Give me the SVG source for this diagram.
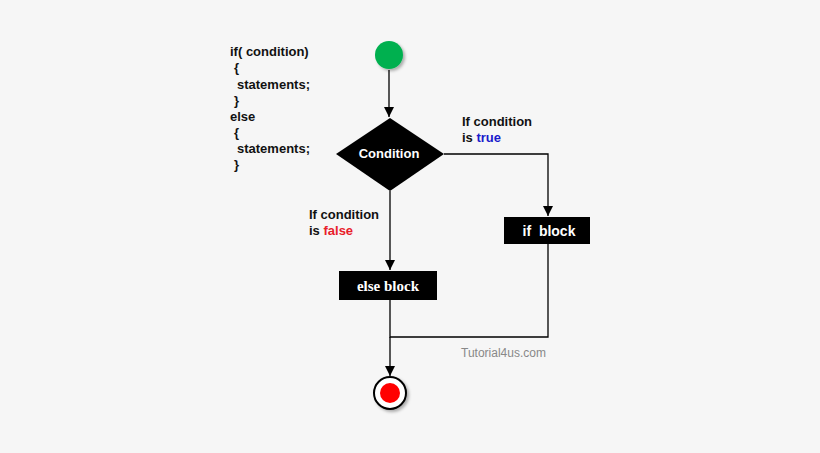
<svg xmlns="http://www.w3.org/2000/svg" width="820" height="453" viewBox="0 0 820 453">
<defs>
<marker id="ah" viewBox="0 0 10 10" refX="10" refY="5" markerWidth="10" markerHeight="10" markerUnits="userSpaceOnUse" orient="auto"><path d="M0,0 L10,5 L0,10 z" fill="#000"/></marker>
<filter id="sh" x="-50%" y="-50%" width="200%" height="200%"><feDropShadow dx="2" dy="2" stdDeviation="1.5" flood-color="#000" flood-opacity="0.3"/></filter>
</defs>
<style>
.t{font-family:"Liberation Sans",Arial,sans-serif;font-size:13px;font-weight:bold;fill:#111}
.w{font-family:"Liberation Serif","Times New Roman",serif;font-size:15px;font-weight:bold;fill:#fff}
.c{stroke:#000;stroke-width:1.3;fill:none}
</style>
<rect width="820" height="453" fill="#f6f6f6"/>
<g id="code" class="t">
<text x="230" y="56">if( condition)</text>
<text x="234" y="72">{</text>
<text x="237" y="89">statements;</text>
<text x="234" y="105">}</text>
<text x="230" y="121">else</text>
<text x="234" y="137">{</text>
<text x="237" y="153">statements;</text>
<text x="234" y="169">}</text>
</g>
<g id="connectors">
<path class="c" d="M389,70 V117" marker-end="url(#ah)"/>
<path class="c" d="M444,154 H548 V216" marker-end="url(#ah)"/>
<path class="c" d="M390,191 V270" marker-end="url(#ah)"/>
<path class="c" d="M390,300 V337 H548 V244"/>
<path class="c" d="M390,337 V376" marker-end="url(#ah)"/>
</g>
<g id="start"><circle cx="389" cy="55" r="14" fill="#00b050" filter="url(#sh)"/></g>
<g id="condition">
<polygon points="390,118 444,154 390,191 336,154" fill="#000"/>
<text x="389" y="158" text-anchor="middle" font-family="Liberation Sans,Arial,sans-serif" font-size="13" font-weight="bold" fill="#fff">Condition</text>
</g>
<g id="truelabel" class="t"><text x="462" y="126">If condition</text><text x="462" y="142">is <tspan fill="#1a1acc">true</tspan></text></g>
<g id="falselabel" class="t"><text x="309" y="219">If condition</text><text x="309" y="235">is <tspan fill="#e8202a">false</tspan></text></g>
<g id="ifblock"><rect x="504" y="217" width="86" height="27" fill="#000"/><text x="549" y="236" text-anchor="middle" class="t" style="fill:#fff;font-size:14px" xml:space="preserve">if  block</text></g>
<g id="elseblock"><rect x="339" y="271" width="98" height="29" fill="#000"/><text x="388" y="291" text-anchor="middle" class="w">else block</text></g>
<text x="461" y="357" font-family="Liberation Sans,Arial,sans-serif" font-size="12" fill="#888">Tutorial4us.com</text>
<g id="end"><circle cx="390" cy="393" r="16" fill="#fff" stroke="#000" stroke-width="2" filter="url(#sh)"/><circle cx="390" cy="393" r="10" fill="#f00"/></g>
</svg>
